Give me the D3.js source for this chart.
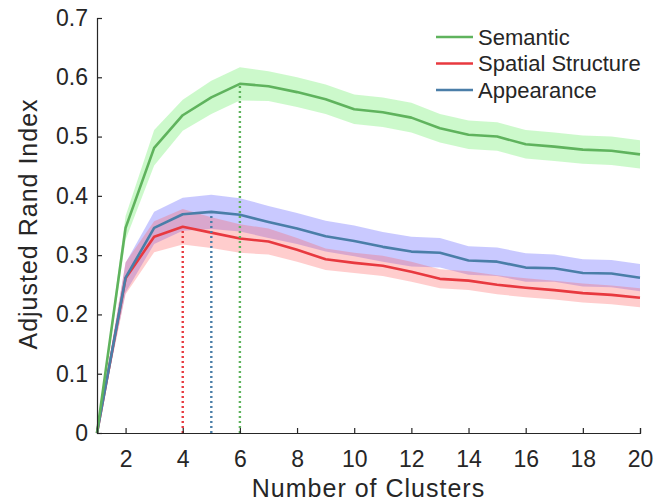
<!DOCTYPE html>
<html>
<head>
<meta charset="utf-8">
<script src="https://cdn.jsdelivr.net/npm/d3@7"></script>
<style>
  body { margin: 0; background: #fff; }
  text { font-family: "Liberation Sans", Arial, sans-serif; fill: #262626; }
</style>
</head>
<body>
<script>
// data
const clusters = [1,2,3,4,5,6,7,8,9,10,11,12,13,14,15,16,17,18,19,20];

const semantic = [0, 0.346, 0.481, 0.536, 0.566, 0.589, 0.585, 0.575, 0.563, 0.546,
  0.541, 0.532, 0.514, 0.503, 0.500, 0.487, 0.483, 0.478, 0.476, 0.470];
const semanticErr = [0, 0.02, 0.03, 0.026, 0.028, 0.028, 0.025, 0.025, 0.025, 0.025,
  0.025, 0.025, 0.024, 0.024, 0.024, 0.024, 0.024, 0.024, 0.024, 0.024];

const spatial = [0, 0.261, 0.331, 0.348, 0.338, 0.328, 0.323, 0.309, 0.293, 0.287,
  0.282, 0.272, 0.260, 0.257, 0.250, 0.245, 0.241, 0.236, 0.233, 0.228];
const spatialErr = [0, 0.027, 0.026, 0.03, 0.026, 0.024, 0.022, 0.02, 0.018, 0.017,
  0.017, 0.017, 0.016, 0.016, 0.016, 0.016, 0.016, 0.016, 0.016, 0.016];

const appearance = [0, 0.262, 0.346, 0.369, 0.373, 0.368, 0.356, 0.345, 0.332, 0.324,
  0.314, 0.306, 0.304, 0.291, 0.289, 0.279, 0.278, 0.270, 0.269, 0.262];
const appearanceErr = [0, 0.025, 0.027, 0.028, 0.029, 0.028, 0.027, 0.026, 0.026, 0.026,
  0.025, 0.025, 0.025, 0.024, 0.024, 0.024, 0.023, 0.023, 0.023, 0.023];

const xTicks = [2,4,6,8,10,12,14,16,18,20];
const yTicks = [0,0.1,0.2,0.3,0.4,0.5,0.6,0.7];

const series = [
  { name: "Semantic", values: semantic, err: semanticErr, line: "#5fb35d", band: "#78ee76", peak: 6 },
  { name: "Spatial Structure", values: spatial, err: spatialErr, line: "#e8393f", band: "#ff5a5a", peak: 4 },
  { name: "Appearance", values: appearance, err: appearanceErr, line: "#4a7ea8", band: "#4d4dff", peak: 5 }
];

const w = 667, h = 502;
const m = { left: 97, right: 27, top: 18, bottom: 69 };

const svg = d3.select("body").append("svg").attr("width", w).attr("height", h);

const x = d3.scaleLinear().domain([1, 20]).range([m.left, w - m.right]);
const y = d3.scaleLinear().domain([0, 0.7]).range([h - m.bottom, m.top]);

// bands: blue, then red, then green
[series[2], series[1], series[0]].forEach(s => {
  const area = d3.area()
    .x((d, i) => x(clusters[i]))
    .y0((d, i) => y(d - s.err[i]))
    .y1((d, i) => y(d + s.err[i]));
  svg.append("path")
    .datum(s.values)
    .attr("d", area)
    .attr("fill", s.band)
    .attr("fill-opacity", s.name == "Semantic" ? 0.38 : 0.3)
    .attr("stroke", "none");
});

// mean lines
[series[1], series[2], series[0]].forEach(s => {
  const line = d3.line().x((d, i) => x(clusters[i])).y(d => y(d));
  svg.append("path")
    .datum(s.values)
    .attr("d", line)
    .attr("fill", "none")
    .attr("stroke", s.line)
    .attr("stroke-width", 2.6)
    .attr("stroke-linejoin", "round");
});

// dotted markers at the peaks
series.forEach(s => {
  const i = clusters.indexOf(s.peak);
  svg.append("line")
    .attr("x1", x(s.peak)).attr("x2", x(s.peak))
    .attr("y1", y(0)).attr("y2", y(s.values[i]))
    .attr("stroke", s.line)
    .attr("stroke-width", 2.4)
    .attr("stroke-dasharray", "2,3");
});

// axes, ticks pointing inward
const xAxis = d3.axisBottom(x).tickValues(xTicks).tickSizeInner(-5).tickSizeOuter(-5);
const yAxis = d3.axisLeft(y).tickValues(yTicks).tickSizeInner(-5).tickSizeOuter(-5).tickPadding(9)
  .tickFormat(d => d === 0 ? "0" : d3.format(".1f")(d));

const gx = svg.append("g")
  .attr("transform", "translate(0," + (h - m.bottom) + ")")
  .call(xAxis);
const gy = svg.append("g")
  .attr("transform", "translate(" + m.left + ",0)")
  .call(yAxis);

[gx, gy].forEach(g => {
  g.select(".domain").attr("stroke", "#262626").attr("stroke-width", 1.2);
  g.selectAll(".tick line").attr("stroke", "#262626").attr("stroke-width", 1.2);
  g.selectAll(".tick text").style("font-size", "23px").attr("fill", "#262626")
    .style("font-family", "'Liberation Sans', Arial, sans-serif");
});
gx.selectAll(".tick text").attr("y", 34).attr("dy", 0);

// axis titles
svg.append("text")
  .attr("x", (m.left + w - m.right) / 2)
  .attr("y", 497)
  .attr("text-anchor", "middle")
  .style("font-size", "25px")
  .style("letter-spacing", "1px")
  .text("Number of Clusters");

svg.append("text")
  .attr("transform", "translate(37,224) rotate(-90)")
  .attr("text-anchor", "middle")
  .style("font-size", "25px")
  .style("letter-spacing", "1px")
  .text("Adjusted Rand Index");

// legend
const legend = svg.append("g").attr("transform", "translate(436,37)");
series.forEach((s, i) => {
  const row = legend.append("g").attr("transform", "translate(0," + i * 26.5 + ")");
  row.append("line").attr("x1", 0).attr("x2", 37).attr("y1", 0).attr("y2", 0)
    .attr("stroke", s.line).attr("stroke-width", 2.6);
  row.append("text").attr("x", 42).attr("y", 0).attr("dy", "0.35em")
    .style("font-size", "22px").text(s.name);
});
</script>
</body>
</html>
